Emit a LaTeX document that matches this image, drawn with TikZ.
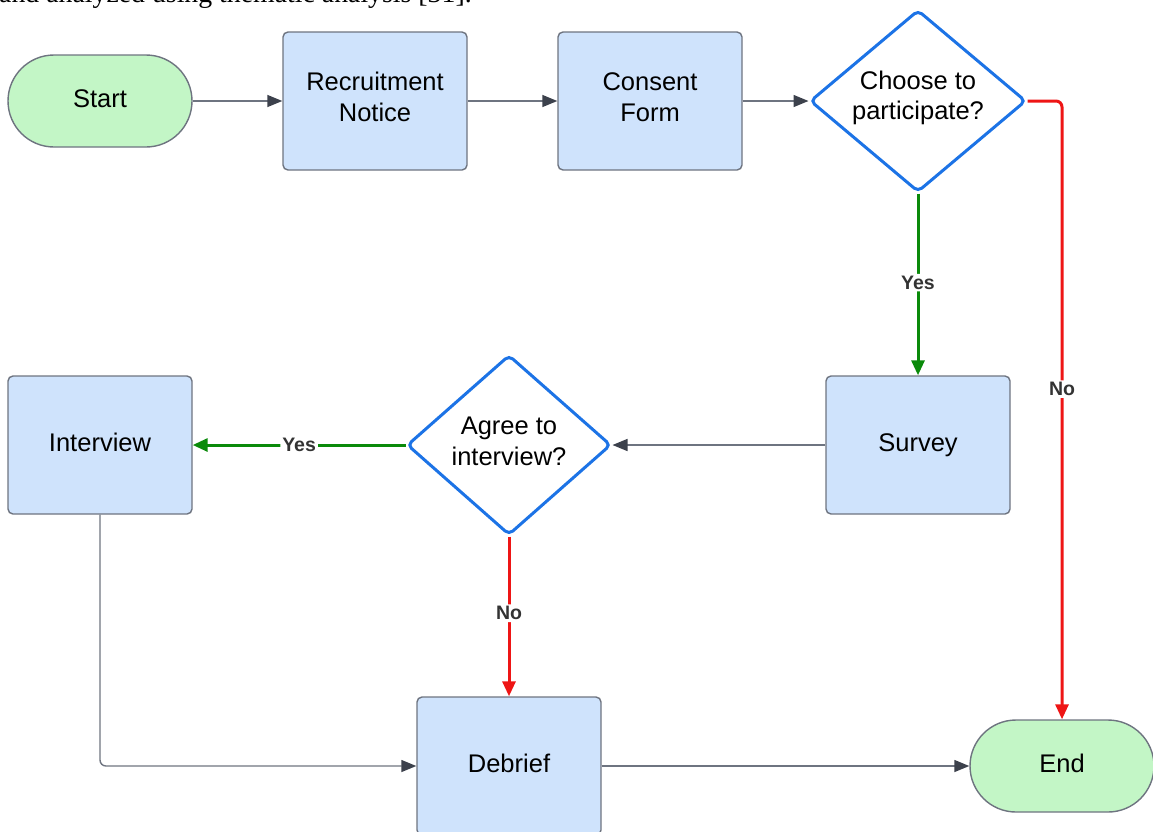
\documentclass[tikz,border=0pt]{standalone}
\usepackage{fontspec}
\setmainfont{Liberation Sans}
\newfontfamily\serifface{Liberation Serif}
\usetikzlibrary{shapes.geometric,arrows.meta}
\definecolor{boxfill}{HTML}{CFE3FC}
\definecolor{boxline}{HTML}{6E7480}
\definecolor{termfill}{HTML}{C3F6C6}
\definecolor{diamline}{HTML}{1C73E6}
\definecolor{yesgreen}{HTML}{0A8A0A}
\definecolor{nored}{HTML}{EE1515}
\definecolor{tipgray}{HTML}{3C414C}
\definecolor{labelgray}{HTML}{333333}
\tikzset{
  procbox/.style={rectangle, rounded corners=5pt, draw=boxline, line width=1.4pt, fill=boxfill,
    minimum width=184pt, minimum height=138pt, inner sep=0pt},
  termbox/.style={rectangle, rounded corners=46pt, draw=boxline, line width=1.4pt, fill=termfill,
    minimum width=184pt, minimum height=92pt, inner sep=0pt},
  decbox/.style={diamond, rounded corners=5pt, draw=diamline, line width=3pt, fill=white,
    inner sep=0pt},
  boxtext/.style={font=\fontsize{25.5}{30.5}\selectfont, text=black, align=center, inner sep=0pt},
  flow/.style={draw=boxline, line width=1.4pt, rounded corners=6pt,
    -{Triangle[length=15pt,width=12pt,fill=tipgray,color=tipgray]}},
  yesflow/.style={draw=yesgreen, line width=3pt, rounded corners=6pt,
    -{Triangle[length=15pt,width=13pt]}},
  noflow/.style={draw=nored, line width=3pt, rounded corners=6pt,
    -{Triangle[length=15pt,width=13pt]}},
  edgelabel/.style={font=\fontsize{19.5}{22}\selectfont\bfseries, text=labelgray, fill=white,
    inner sep=2pt}
}
\begin{document}
\begin{tikzpicture}[x=1pt,y=-1pt]
\useasboundingbox (0,0) rectangle (1153,831);
\clip (0,0) rectangle (1153,831);
\node[anchor=base west, inner sep=0pt, font=\serifface\fontsize{27.8}{32}\selectfont] (caption) at (-1,2.5) {and analyzed using thematic analysis [31].};

% shapes
\node[termbox] (start) at (100,101) {};
\node[procbox] (recruit) at (375,101) {};
\node[procbox] (consent) at (650,101) {};
\node[decbox, minimum width=216pt, minimum height=182pt] (choose) at (918,101) {};
\node[procbox] (survey) at (918,445) {};
\node[decbox, minimum width=204pt, minimum height=180pt] (agree) at (509,445) {};
\node[procbox] (interview) at (100,445) {};
\node[procbox] (debrief) at (509,766) {};
\node[termbox] (end) at (1062,766) {};

% texts
\node[boxtext] (start-t) at ([yshift=2.5pt]start.center) {Start};
\node[boxtext] (recruit-t) at ([yshift=4pt]recruit.center) {Recruitment\\Notice};
\node[boxtext] (consent-t) at ([yshift=4pt]consent.center) {Consent\\Form};
\node[boxtext] (choose-t) at ([yshift=3pt]choose.center) {Choose to\\participate?};
\node[boxtext] (survey-t) at ([yshift=0pt]survey.center) {Survey};
\node[boxtext] (agree-t) at ([yshift=3.8pt]agree.center) {Agree to\\interview?};
\node[boxtext] (interview-t) at ([yshift=2.5pt]interview.center) {Interview};
\node[boxtext] (debrief-t) at ([yshift=2.5pt]debrief.center) {Debrief};
\node[boxtext] (end-t) at ([yshift=3pt]end.center) {End};

% connectors
\draw[flow] (start.east) -- (recruit.west);
\draw[flow] (recruit.east) -- (consent.west);
\draw[flow] (consent.east) -- (choose.west);
\draw[yesflow] (choose.south) -- node[edgelabel, pos=0.49] (yes1) {Yes} (survey.north);
\draw[noflow] (choose.east) -| node[edgelabel, pos=0.733] (no1) {No} (end.north);
\draw[flow] (survey.west) -- (agree.east);
\draw[yesflow] (agree.west) -- node[edgelabel, pos=0.5] (yes2) {Yes} (interview.east);
\draw[noflow] (agree.south) -- node[edgelabel, pos=0.48] (no2) {No} (debrief.north);
\draw[flow] (interview.south) |- (debrief.west);
\draw[flow] (debrief.east) -- (end.west);
\end{tikzpicture}
\end{document}
